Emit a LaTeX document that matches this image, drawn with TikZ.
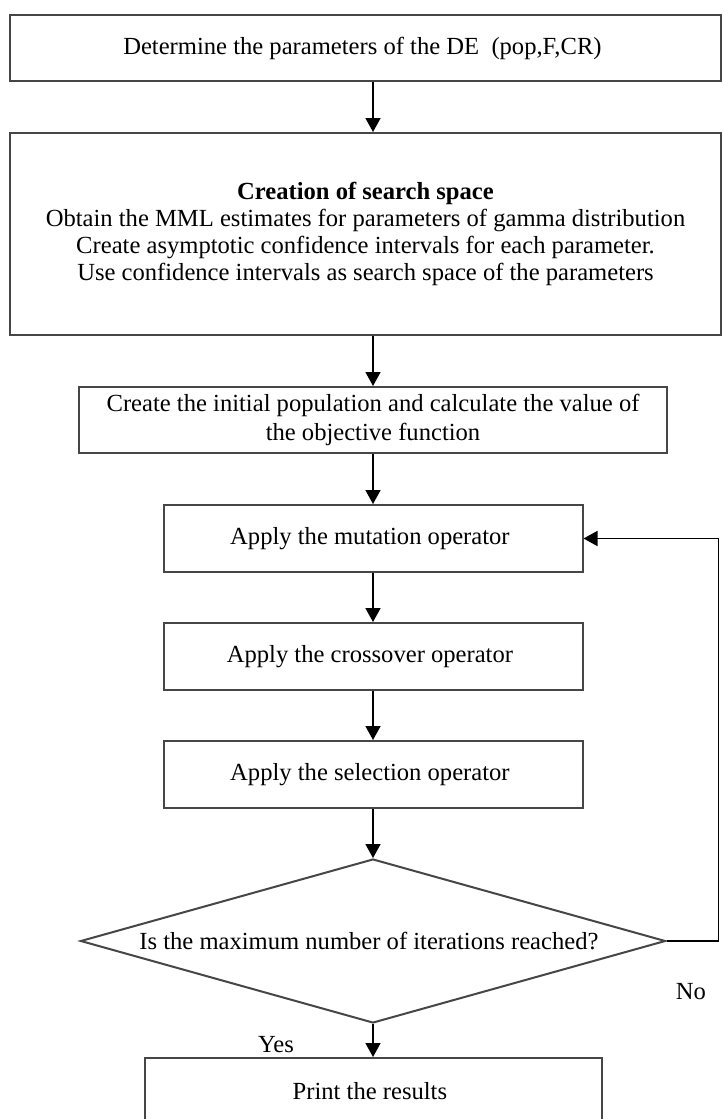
\documentclass[tikz,border=0pt]{standalone}
\usepackage{fontspec}
\setmainfont{Liberation Serif}
\usepackage{tikz}
\usetikzlibrary{shapes.geometric, arrows.meta}
\definecolor{edge}{RGB}{70, 70, 70}

\tikzset{
  stepbox/.style={draw=edge, line width=1, minimum height=33.5pt, inner sep=0pt,
    align=center, font=\fontsize{12.3}{13.5}\selectfont},
  flow/.style={-{Triangle[length=7pt, width=7.5pt]}, line width=0.8, black},
  tag/.style={font=\fontsize{12.3}{13.5}\selectfont}
}

\begin{document}
\begin{tikzpicture}[x=0.5pt, y=-0.5pt]

  \path[use as bounding box, fill=white] (0, 0) rectangle (723, 1119);

  \node[stepbox, minimum width=355.5pt, minimum height=33pt] (param) at (365.5, 48)
  { Determine the parameters of the DE\ \ (pop,F,CR) };

  \node[stepbox, minimum width=355.5pt, minimum height=101pt] (space) at (365.5, 234)
  { \textbf{Creation of search space}\\
    Obtain the MML estimates for parameters of gamma distribution\\
    Create asymptotic confidence intervals for each parameter.\\
    Use confidence intervals as search space of the parameters };

  \node[stepbox, minimum width=294pt, minimum height=33pt] (init) at (373, 420)
  { Create the initial population and calculate the value of\\[1pt]
    the objective function };

  \node[stepbox, minimum width=209.5pt] (mut) at (373, 538.5) { Apply the mutation operator };
  \node[stepbox, minimum width=209.5pt] (cross) at (373, 656.5) { Apply the crossover operator };
  \node[stepbox, minimum width=209.5pt] (sel) at (373, 774.5) { Apply the selection operator };

  \node[stepbox, diamond, aspect=3.57, minimum width=292.5pt, minimum height=82pt] (check)
  at (373, 941) { Is the maximum number of iterations reached? };

  \node[stepbox, minimum width=228.5pt] (print) at (373, 1091.5) { Print the results };

  \node[tag] (no) at (691, 992) { No };
  \node[tag] (yes) at (276, 1045) { Yes };

  % main line
  \draw[flow] (param.south -| init.north) -- (space.north -| init.north);
  \draw[flow] (space.south -| init.north) -- (init.north);
  \draw[flow] (init) -- (mut);
  \draw[flow] (mut) -- (cross);
  \draw[flow] (cross) -- (sel);
  \draw[flow] (sel) -- (check);
  \draw[flow] (check) -- (print);

  % back to mutation
  \draw[flow] (check.east) -- ++(52, 0) |- (mut.east);

\end{tikzpicture}
\end{document}
